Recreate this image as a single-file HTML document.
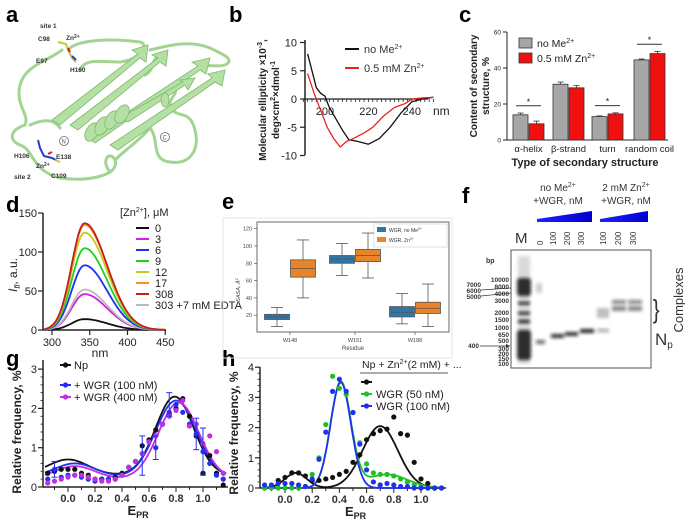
<!DOCTYPE html>
<html><head><meta charset="utf-8">
<style>
html,body{margin:0;padding:0;background:#fff;}
svg{display:block;font-family:"Liberation Sans",sans-serif;}
.pl{font-size:22px;font-weight:bold;}
.tk{font-size:10px;fill:#222;}
.lg{font-size:12px;fill:#222;}
</style></head>
<body>
<svg id="fig" width="685" height="521" viewBox="0 0 685 521">
<defs>
<filter id="blur1" x="-30%" y="-80%" width="160%" height="260%"><feGaussianBlur stdDeviation="1.6"/></filter>
<linearGradient id="tri" x1="0" x2="1"><stop offset="0" stop-color="#2020ff"/><stop offset="1" stop-color="#0000d0"/></linearGradient>
</defs>
<!-- panel labels -->
<text class="pl" x="6" y="22">a</text>
<text class="pl" x="229" y="22">b</text>
<text class="pl" x="459" y="22">c</text>
<text class="pl" x="6" y="212">d</text>
<text class="pl" x="222" y="209">e</text>
<text class="pl" x="462" y="203">f</text>
<text class="pl" x="6" y="366">g</text>
<text class="pl" x="222" y="366">h</text>

<!-- panel a: protein ribbon -->
<g id="protein" fill="none" stroke="#a3d492" stroke-width="3" stroke-linecap="round" stroke-linejoin="round">
<path d="M62,50 C50,60 25,65 20,85 C15,105 30,115 25,125 C10,130 8,140 20,145 C35,150 30,170 60,178 C90,182 120,175 115,160 C110,150 100,160 110,172" />
<path d="M70,48 C80,40 110,38 140,42 C150,44 140,60 120,62 C100,62 85,58 80,70" />
<path d="M150,50 C170,45 190,40 210,48 C225,55 235,60 225,65 C215,68 205,62 195,70" />
<path d="M150,128 C160,140 150,160 170,162 C190,165 200,150 195,130 C190,110 180,118 172,110 C165,100 178,95 175,90" />
<path d="M115,160 C125,150 140,140 150,128" />
<path d="M30,125 C45,118 55,120 60,128" />
<path d="M160,55 C150,60 155,70 145,75" />
</g>
<g fill="#b5e0a3" stroke="#7fb870" stroke-width="0.8">
<polygon points="52,120 60,125 140,58 146,62 148,45 132,50 138,54" />
<polygon points="70,125 78,130 160,62 166,66 168,50 152,55 158,58" />
<polygon points="88,138 95,143 200,70 206,74 210,58 192,62 198,66" />
<polygon points="110,145 118,150 215,82 222,86 225,70 208,74 212,78" />
<polygon points="120,118 128,122 185,85 188,90 195,78 180,80 183,82" />
</g>
<g fill="#b5e0a3" stroke="#7fb870" stroke-width="0.8">
<ellipse cx="92" cy="132" rx="6" ry="10" transform="rotate(30 92 132)"/>
<ellipse cx="102" cy="126" rx="6" ry="10" transform="rotate(30 102 126)"/>
<ellipse cx="112" cy="120" rx="6" ry="10" transform="rotate(30 112 120)"/>
<ellipse cx="122" cy="114" rx="6" ry="10" transform="rotate(30 122 114)"/>
<ellipse cx="165" cy="100" rx="4" ry="7"/>
</g>
<g stroke-width="2" fill="none">
<path d="M58,42 L66,44 L68,50 L72,58 L76,62" stroke="#c8c840"/>
<path d="M68,48 L70,52" stroke="#d02020"/>
<path d="M72,56 L76,60" stroke="#2040d0"/>
<path d="M38,140 L40,148 L44,156 L52,158 L56,160" stroke="#2040d0"/>
<path d="M48,154 L52,152" stroke="#d02020"/>
<path d="M55,160 L60,162" stroke="#c8c840"/>
</g>
<g font-size="6.5" font-weight="bold" fill="#333">
<text x="40" y="28">site 1</text>
<text x="38" y="41">C98</text>
<text x="66" y="40">Zn<tspan font-size="5" dy="-2">2+</tspan></text>
<text x="36" y="63">E97</text>
<text x="70" y="72">H160</text>
<text x="14" y="158">H106</text>
<text x="56" y="159">E138</text>
<text x="36" y="168">Zn<tspan font-size="5" dy="-2">2+</tspan></text>
<text x="14" y="179">site 2</text>
<text x="51" y="178">C109</text>
</g>
<g fill="none" stroke="#666" stroke-width="0.8">
<circle cx="64" cy="141" r="4.5"/><circle cx="165" cy="137" r="4.5"/>
<text x="61.5" y="143.5" font-size="6" fill="#555" stroke="none">N</text>
<text x="162.5" y="139.5" font-size="6" fill="#555" stroke="none">C</text>
</g>

<!-- panel f gel -->
<g>
<text x="558" y="191" font-size="10" text-anchor="middle" fill="#333">no Me<tspan font-size="7" dy="-4">2+</tspan></text>
<text x="558" y="204" font-size="10" text-anchor="middle" fill="#333">+WGR, nM</text>
<text x="626" y="191" font-size="10" text-anchor="middle" fill="#333">2 mM Zn<tspan font-size="7" dy="-4">2+</tspan></text>
<text x="626" y="204" font-size="10" text-anchor="middle" fill="#333">+WGR, nM</text>
<polygon points="537,219 592,211 592,222 537,222" fill="url(#tri)"/>
<polygon points="600,219 648,211 648,222 600,222" fill="url(#tri)"/>
<text x="515" y="243" font-size="15" fill="#333">M</text>
<g font-size="8" fill="#333">
<text transform="translate(543,245) rotate(-90)">0</text>
<text transform="translate(556,245) rotate(-90)">100</text>
<text transform="translate(570,245) rotate(-90)">200</text>
<text transform="translate(584,245) rotate(-90)">300</text>
<text transform="translate(606,245) rotate(-90)">100</text>
<text transform="translate(621,245) rotate(-90)">200</text>
<text transform="translate(636,245) rotate(-90)">300</text>
</g>
<rect x="511" y="250" width="140" height="118" fill="#fff" stroke="#555" stroke-width="1"/>
<g filter="url(#blur1)" fill="#111">
<rect x="518" y="256" width="12" height="108" opacity="0.15"/>
<rect x="517" y="278" width="14" height="18" rx="3" opacity="0.85"/>
<rect x="518" y="302" width="12" height="2.5"/>
<rect x="518" y="312" width="12" height="2.5"/>
<rect x="518" y="320" width="12" height="3"/>
<rect x="517" y="330" width="14" height="30" rx="3" opacity="0.85"/>
<rect x="536" y="340" width="9" height="4" opacity="0.6"/>
<rect x="536" y="283" width="6" height="10" opacity="0.2"/>
<rect x="551" y="334" width="13" height="4" opacity="0.85"/>
<rect x="565" y="332" width="13" height="4" opacity="0.85"/>
<rect x="580" y="329" width="14" height="4" opacity="0.9"/>
<rect x="597" y="329" width="12" height="3" opacity="0.4"/>
<rect x="597" y="308" width="12" height="10" opacity="0.25"/>
<rect x="612" y="300" width="14" height="4" opacity="0.5"/>
<rect x="612" y="306" width="14" height="5" opacity="0.5"/>
<rect x="628" y="300" width="14" height="4" opacity="0.5"/>
<rect x="628" y="306" width="14" height="5" opacity="0.5"/>
</g>
<text x="486" y="263" font-size="7" font-weight="bold" fill="#333">bp</text>
<g font-size="6.5" font-weight="bold" fill="#333" text-anchor="end">
<text x="509" y="282">10000</text><text x="509" y="289">8000</text><text x="509" y="296">4000</text>
<text x="509" y="303">3000</text><text x="509" y="315">2000</text><text x="509" y="322">1500</text>
<text x="509" y="330">1000</text><text x="509" y="337">650</text><text x="509" y="343">500</text>
<text x="509" y="351">300</text><text x="509" y="356">200</text><text x="509" y="361">150</text><text x="509" y="366">100</text>
<text x="481" y="287">7000</text><text x="481" y="293">6000</text><text x="481" y="299">5000</text>
<text x="479" y="348">400</text>
</g>
<path d="M481,290 L511,288 M481,296 L511,293" stroke="#333" stroke-width="0.7"/>
<path d="M480,346 L510,346" stroke="#333" stroke-width="0.7"/>
<path d="M506,344 L510,346 L506,348" fill="#333"/>
<text x="653" y="318" font-size="26" fill="#333" transform="scale(0.8,1) translate(163,0)">}</text>
<text transform="translate(683,300) rotate(-90)" font-size="13" text-anchor="middle" fill="#333">Complexes</text>
<text x="655" y="345" font-size="17" fill="#333">N<tspan font-size="10" dy="3">p</tspan></text>
</g>

<g id="charts"></g>
</svg>
<script>
// ---------- data ----------
const bWlNo=[192,194,196,198,200,202,205,208,211,215,220,225,230,235,240,245,250];
const bValNo=[8,5,2,1,0.5,-1.5,-3.5,-5.5,-7.2,-7.5,-8,-7,-5,-2.5,-0.5,0,0.3];
const bWlZn=[192,195,198,201,204,207,210,213,218,222,227,232,237,240,245,250];
const bValZn=[4.5,1,-2,-5,-7,-8.5,-7.5,-7,-6,-5,-3,-1.5,-0.8,0,0.2,0.3];
const bYTicks=[10,5,0,-5,-10];
const bXTicks=[200,220,240];

const cCats=['α-helix','β-strand','turn','random coil'];
const cNoMe=[14,31,13,44.5];
const cZn=[9,29,14.5,48];
const cErrNo=[1,1.2,0.4,0.5];
const cErrZn=[1.5,1.2,0.6,1.2];
const cYTicks=[0,20,40,60];

const dLabels=['0','3','6','9','12','17','308','303 +7 mM EDTA'];
const dPeaks=[14,46,83,105,125,135,137,52];
const dColors=['#111','#d020e0','#2030f0','#20d020','#c8c820','#ff9020','#c02020','#bbbbbb'];
const dYTicks=[0,50,100,150];
const dXTicks=[300,350,400,450];

const eRes=['W148','W151','W188'];
const eNoMe=[[7,15,18,21,29],[66,80,85,89,103],[10,18,23,30,45]];
const eZn=[[40,64,74,84,107],[63,82,89,96,115],[7,22,28,35,56]];
const eYTicks=[20,40,60,80,100,120];

const gX=[-0.15,-0.1,-0.05,0,0.05,0.1,0.15,0.2,0.25,0.3,0.35,0.4,0.45,0.5,0.55,0.6,0.65,0.7,0.75,0.8,0.85,0.9,0.95,1.0,1.05,1.1,1.15];
const gNp=[0.35,0.4,0.45,0.45,0.45,0.35,0.3,0.2,0.2,0.2,0.25,0.35,0.5,0.65,1.05,1.2,1.45,1.6,1.85,2.0,2.25,1.8,1.3,0.35,0.8,0.35,0.05];
const gW100=[0.2,0.45,0.25,0.3,0.3,0.25,0.2,0.15,0.2,0.2,0.2,0.3,0.5,0.65,0.85,1.15,1.0,1.6,1.9,2.1,1.9,1.6,1.35,0.9,0.6,0.3,0.2];
const gW400=[0.1,0.15,0.2,0.25,0.3,0.3,0.25,0.2,0.15,0.15,0.2,0.3,0.5,0.65,0.85,1.15,1.3,1.6,1.8,1.95,2.2,1.55,1.6,1.1,1.3,0.9,0.35];
const gFitNp=[0.3,0.4,0,0.15,2.0,0.79,0.14];
const gFitW100=[0.25,0.35,0.05,0.15,1.95,0.8,0.15];
const gFitW400=[0.2,0.33,0.05,0.15,1.95,0.82,0.15];

const hX=gX;
const hNp=[0,0.05,0.25,0.35,0.5,0.5,0.4,0.25,0.25,0.3,0.35,0.45,0.55,0.85,1.1,1.6,1.8,1.9,1.95,2.35,1.8,1.75,0.85,0.3,0.15,0,0];
const hW50=[0,0,0,0,0,0,0.05,0.45,1.0,2.1,3.7,3.3,3.1,2.5,1.5,0.8,0.5,0.45,0.45,0.4,0.3,0.2,0.1,0.05,0,0,0];
const hW100=[0.1,0.1,0.15,0.15,0.15,0.1,0.05,0.3,0.95,1.85,3.2,3.6,3.2,2.5,1.45,0.6,0.2,0.1,0.15,0.1,0.05,0.05,0,0,0,0,0];
const hFitNp=[0,0.5,0.08,0.08,2.05,0.7,0.13];
const hFitW50=[0,0.45,0.75,0.15,3.5,0.41,0.075];
const hFitW100=[0,0,0.75,0.15,3.5,0.41,0.075];
const gYTicks=[0,1,2,3];
const hYTicks=[0,1,2,3,4];
const epXTicks=[0.0,0.2,0.4,0.6,0.8,1.0];

// ---------- helpers ----------
const NS='http://www.w3.org/2000/svg';
const root=document.getElementById('charts');
function add(p,tag,attrs,name,text){
  const el=document.createElementNS(NS,tag);
  for(const k in attrs) el.setAttribute(k,attrs[k]);
  
  
  if(text!==undefined) el.innerHTML=text;
  p.appendChild(el);
  return el;
}
function line(p,x1,y1,x2,y2,st,w,name){return add(p,'line',{x1,y1,x2,y2,stroke:st,'stroke-width':w},name);}
function poly(p,xs,ys,fx,fy,st,w,name){
  const pts=xs.map((x,i)=>fx(x).toFixed(1)+','+fy(ys[i]).toFixed(1)).join(' ');
  return add(p,'polyline',{points:pts,fill:'none',stroke:st,'stroke-width':w,'stroke-linejoin':'round'},name);
}
function gauss2(p,x){return p[1]*Math.exp(-((x-p[2])**2)/(2*p[3]*p[3]))+p[4]*Math.exp(-((x-p[5])**2)/(2*p[6]*p[6]))+p[0];}

// ---------- panel b ----------
const gb=add(root,'g',{},'cd-spectrum-chart');
const xB=l=>325+(l-200)*2.17, yB=v=>99-5.65*v;
line(gb,305,40,305,155,'#222',1.5,'b-y-axis');
bYTicks.forEach(t=>{line(gb,300,yB(t),305,yB(t),'#222',1.2,'b-y-tick');
 add(gb,'text',{x:297,y:yB(t)+4,'text-anchor':'end','font-size':11,fill:'#222'},'b-y-tick-label',String(t));});
line(gb,305,yB(0),428,yB(0),'#222',1.2,'b-x-axis');
for(let l=190;l<=250;l+=2){line(gb,xB(l),yB(0),xB(l),yB(0)+3,'#222',0.8,'b-x-minor-tick');}
bXTicks.forEach(t=>add(gb,'text',{x:xB(t),y:115,'text-anchor':'middle','font-size':11,fill:'#222'},'b-x-tick-label',String(t)));
add(gb,'text',{x:433,y:115,'font-size':12,fill:'#222'},'b-x-unit','nm');
poly(gb,bWlNo,bValNo,xB,yB,'#111',1.3,'b-line-no-me');
poly(gb,bWlZn,bValZn,xB,yB,'#f02020',1.3,'b-line-zn');
line(gb,345,49,359,49,'#111',2,'b-legend-swatch-no-me');
add(gb,'text',{x:364,y:53,'font-size':11,fill:'#333'},'b-legend-no-me','no Me<tspan font-size="7" dy="-4">2+</tspan>');
line(gb,345,68,359,68,'#f02020',2,'b-legend-swatch-zn');
add(gb,'text',{x:364,y:72,'font-size':11,fill:'#333'},'b-legend-zn','0.5 mM Zn<tspan font-size="7" dy="-4">2+</tspan>');
add(gb,'text',{transform:'translate(266,100) rotate(-90)','text-anchor':'middle','font-size':10,'font-weight':'bold',fill:'#222'},'b-y-axis-title','Molecular ellipticity ×10<tspan font-size="7" dy="-4">-3</tspan><tspan dy="4">,</tspan>');
add(gb,'text',{transform:'translate(279,100) rotate(-90)','text-anchor':'middle','font-size':10,'font-weight':'bold',fill:'#222'},'b-y-axis-title-2','deg×cm<tspan font-size="7" dy="-4">2</tspan><tspan dy="4">×dmol</tspan><tspan font-size="7" dy="-4">-1</tspan>');

// ---------- panel c ----------
const gc=add(root,'g',{},'secondary-structure-chart');
const yC=v=>140-1.8*v;
const cX0=[513,553,592,634];
line(gc,507,32,507,140,'#222',1,'c-y-axis');
line(gc,507,140,668,140,'#222',1,'c-x-axis');
cYTicks.forEach(t=>{line(gc,503,yC(t),507,yC(t),'#222',1,'c-y-tick');
 add(gc,'text',{x:501,y:yC(t)+2.5,'text-anchor':'end','font-size':6.5,fill:'#222'},'c-y-tick-label',String(t));});
cCats.forEach((c,i)=>{
 const x=cX0[i];
 add(gc,'rect',{x:x,y:yC(cNoMe[i]),width:15,height:140-yC(cNoMe[i]),fill:'#a6a6a6',stroke:'#333','stroke-width':0.8},'c-bar-no-me');
 add(gc,'rect',{x:x+16,y:yC(cZn[i]),width:15,height:140-yC(cZn[i]),fill:'#f01010',stroke:'#333','stroke-width':0.8},'c-bar-zn');
 line(gc,x+7.5,yC(cNoMe[i]+cErrNo[i]),x+7.5,yC(cNoMe[i]),'#333',0.8,'c-error-bar');
 line(gc,x+4.5,yC(cNoMe[i]+cErrNo[i]),x+10.5,yC(cNoMe[i]+cErrNo[i]),'#333',0.8,'c-error-cap');
 line(gc,x+23.5,yC(cZn[i]+cErrZn[i]),x+23.5,yC(cZn[i]),'#333',0.8,'c-error-bar');
 line(gc,x+20.5,yC(cZn[i]+cErrZn[i]),x+26.5,yC(cZn[i]+cErrZn[i]),'#333',0.8,'c-error-cap');
 add(gc,'text',{x:x+15.5,y:152,'text-anchor':'middle','font-size':9.5,fill:'#222'},'c-category-label',c);
});
[0,2,3].forEach(i=>{const top=Math.max(cNoMe[i]+cErrNo[i],cZn[i]+cErrZn[i])+4;
 line(gc,cX0[i]+3,yC(top),cX0[i]+28,yC(top),'#333',1,'c-significance-bar');
 add(gc,'text',{x:cX0[i]+15.5,y:yC(top)-1,'text-anchor':'middle','font-size':9,fill:'#222'},'c-significance-star','*');});
add(gc,'text',{x:585,y:166,'text-anchor':'middle','font-size':11,'font-weight':'bold',fill:'#222'},'c-x-axis-title','Type of secondary structure');
add(gc,'text',{transform:'translate(477,86) rotate(-90)','text-anchor':'middle','font-size':10,'font-weight':'bold',fill:'#222'},'c-y-axis-title','Content of secondary');
add(gc,'text',{transform:'translate(489,86) rotate(-90)','text-anchor':'middle','font-size':10,'font-weight':'bold',fill:'#222'},'c-y-axis-title-2','structure, %');
add(gc,'rect',{x:519,y:38,width:13,height:10,fill:'#a6a6a6',stroke:'#333','stroke-width':0.8},'c-legend-swatch-no-me');
add(gc,'text',{x:537,y:47,'font-size':10.5,fill:'#222'},'c-legend-no-me','no Me<tspan font-size="7" dy="-4">2+</tspan>');
add(gc,'rect',{x:519,y:53,width:13,height:10,fill:'#f01010',stroke:'#333','stroke-width':0.8},'c-legend-swatch-zn');
add(gc,'text',{x:537,y:62,'font-size':10.5,fill:'#222'},'c-legend-zn','0.5 mM Zn<tspan font-size="7" dy="-4">2+</tspan>');

// ---------- panel d ----------
const gd=add(root,'g',{},'fluorescence-chart');
const xD=l=>52+(l-300)*0.755, yD=v=>330-0.78*v;
line(gd,43,213,43,330,'#222',1.5,'d-y-axis');
line(gd,43,330,166,330,'#222',1.5,'d-x-axis');
dYTicks.forEach(t=>{line(gd,38,yD(t),43,yD(t),'#222',1.2,'d-y-tick');
 add(gd,'text',{x:37,y:yD(t)+4,'text-anchor':'end','font-size':11,fill:'#222'},'d-y-tick-label',String(t));});
dXTicks.forEach(t=>{line(gd,xD(t),330,xD(t),335,'#222',1.2,'d-x-tick');
 add(gd,'text',{x:xD(t),y:346,'text-anchor':'middle','font-size':11,fill:'#222'},'d-x-tick-label',String(t));});
add(gd,'text',{x:100,y:357,'text-anchor':'middle','font-size':12,fill:'#222'},'d-x-axis-title','nm');
add(gd,'text',{transform:'translate(17,275) rotate(-90)','text-anchor':'middle','font-size':12,fill:'#222'},'d-y-axis-title','<tspan font-style="italic">I</tspan><tspan font-size="8" dy="3" font-style="italic">fl</tspan><tspan dy="-3">, a.u.</tspan>');
const dWl=[];for(let l=290;l<=450;l+=3)dWl.push(l);
const dOrder=[0,1,7,2,3,4,5,6];
dOrder.forEach(i=>{
 const ys=dWl.map(l=>{const s=l<343?17:30;return dPeaks[i]*Math.exp(-((l-343)**2)/(2*s*s));});
 poly(gd,dWl,ys,xD,yD,dColors[i],1.8,'d-spectrum-'+dLabels[i].split(' ')[0]);
});
add(gd,'text',{x:120,y:216,'font-size':11,fill:'#222'},'d-legend-title','[Zn<tspan font-size="7" dy="-4">2+</tspan><tspan dy="4">], μM</tspan>');
dLabels.forEach((lab,i)=>{const y=228+i*11;
 line(gd,136,y,149,y,dColors[i],2,'d-legend-swatch');
 add(gd,'text',{x:155,y:y+4,'font-size':11,fill:'#222'},'d-legend-entry',lab);});

// ---------- panel e ----------
const ge=add(root,'g',{},'sasa-boxplot');
const yE=v=>332.5-0.865*v;
const xE=[290,355,415];
add(ge,'rect',{x:223,y:218,width:229,height:140,fill:'none',stroke:'#e4e4e4','stroke-width':1},'e-outer-frame');
add(ge,'rect',{x:257,y:222,width:192,height:110,fill:'none',stroke:'#444','stroke-width':0.8},'e-axes-frame');
eYTicks.forEach(t=>{line(ge,254,yE(t),257,yE(t),'#444',0.6,'e-y-tick');
 add(ge,'text',{x:252,y:yE(t)+2,'text-anchor':'end','font-size':5.5,fill:'#444'},'e-y-tick-label',String(t));});
add(ge,'text',{transform:'translate(240,290) rotate(-90)','text-anchor':'middle','font-size':5.5,fill:'#444','font-style':'italic'},'e-y-axis-title','SASA, Å<tspan font-size="4" dy="-2">2</tspan>');
add(ge,'text',{x:353,y:350,'text-anchor':'middle','font-size':6,fill:'#444'},'e-x-axis-title','Residue');
function box(x,q,fill,name){
 line(ge,x,yE(q[0]),x,yE(q[1]),'#555',0.8,name+'-whisker');
 line(ge,x,yE(q[3]),x,yE(q[4]),'#555',0.8,name+'-whisker');
 line(ge,x-6,yE(q[0]),x+6,yE(q[0]),'#555',0.8,name+'-cap');
 line(ge,x-6,yE(q[4]),x+6,yE(q[4]),'#555',0.8,name+'-cap');
 add(ge,'rect',{x:x-12.5,y:yE(q[3]),width:25,height:yE(q[1])-yE(q[3]),fill:fill,stroke:'#555','stroke-width':0.8},name);
 line(ge,x-12.5,yE(q[2]),x+12.5,yE(q[2]),'#555',0.8,name+'-median');
}
eRes.forEach((r,i)=>{
 box(xE[i]-13,eNoMe[i],'#2e76a8','e-box-no-me-'+r);
 box(xE[i]+13,eZn[i],'#e8852a','e-box-zn-'+r);
 line(ge,xE[i],332,xE[i],335,'#444',0.6,'e-x-tick');
 add(ge,'text',{x:xE[i],y:342,'text-anchor':'middle','font-size':5.5,fill:'#444'},'e-x-tick-label',r);
});
add(ge,'rect',{x:374,y:224,width:73,height:23,fill:'#fff',stroke:'#ccc','stroke-width':0.6},'e-legend-frame');
add(ge,'rect',{x:377,y:227,width:9,height:5,fill:'#2e76a8'},'e-legend-swatch-no-me');
add(ge,'text',{x:389,y:232,'font-size':5,fill:'#333'},'e-legend-no-me','WGR, no Me<tspan font-size="3.5" dy="-2">2+</tspan>');
add(ge,'rect',{x:377,y:237,width:9,height:5,fill:'#e8852a'},'e-legend-swatch-zn');
add(ge,'text',{x:389,y:242,'font-size':5,fill:'#333'},'e-legend-zn','WGR, Zn<tspan font-size="3.5" dy="-2">2+</tspan>');

// ---------- panels g & h ----------
function epPanel(name,x0,y0,kx,ky,yTicks,series,fits,colors,xAxisLeft,xAxisRight,yTop){
 const g=add(root,'g',{},name);
 const fx=v=>x0+kx*v, fy=v=>y0-ky*v;
 line(g,xAxisLeft,yTop,xAxisLeft,y0,'#222',1.5,name+'-y-axis');
 line(g,xAxisLeft,y0,xAxisRight,y0,'#222',1.5,name+'-x-axis');
 yTicks.forEach(t=>{line(g,xAxisLeft-5,fy(t),xAxisLeft,fy(t),'#222',1.2,name+'-y-tick');
  add(g,'text',{x:xAxisLeft-6,y:fy(t)+4,'text-anchor':'end','font-size':11,fill:'#222'},name+'-y-tick-label',String(t));
  if(t<yTicks[yTicks.length-1]) for(let m=1;m<5;m++){const yy=fy(t+m/5);line(g,xAxisLeft-2.5,yy,xAxisLeft,yy,'#222',0.8,name+'-y-minor-tick');}
 });
 for(let v=-0.1;v<=1.15;v+=0.1){line(g,fx(v),y0,fx(v),y0+(Math.abs(Math.round(v*10)%2)===0?5:3),'#222',1,name+'-x-tick');}
 epXTicks.forEach(t=>add(g,'text',{x:fx(t),y:y0+15,'text-anchor':'middle','font-size':11,'font-weight':'bold',fill:'#333'},name+'-x-tick-label',t.toFixed(1)));
 add(g,'text',{x:fx(0.5)-8,y:y0+28,'font-size':13,'font-weight':'bold',fill:'#222'},name+'-x-axis-title','E<tspan font-size="9" dy="3">PR</tspan>');
 add(g,'text',{transform:'translate('+(xAxisLeft-22)+','+(y0-55)+') rotate(-90)','text-anchor':'middle','font-size':12,'font-weight':'bold',fill:'#222'},name+'-y-axis-title','Relative frequency, %');
 const fitX=[];for(let v=-0.17;v<=1.171;v+=0.01)fitX.push(v);
 fits.forEach((p,i)=>poly(g,fitX,fitX.map(v=>gauss2(p,v)),fx,fy,colors[i],1.8,name+'-fit-'+i));
 series.forEach((s,i)=>s.forEach((v,j)=>add(g,'circle',{cx:fx(gX[j]),cy:fy(v),r:2.6,fill:colors[i]},name+'-point-'+i)));
 return {g,fx,fy};
}
const gp=epPanel('fret-chart-g',68,487,135,39.3,gYTicks,[gNp,gW100,gW400],[gFitNp,gFitW100,gFitW400],['#111','#2030f0','#c030e0'],43,228,360);
[[0.55,0.8,0.5],[0.75,2.1,0.3],[0.95,1.35,0.4],[1.0,0.9,0.6],[0.65,1.0,0.3],[-0.1,0.45,0.2]].forEach(e=>{
 line(gp.g,gp.fx(e[0]),gp.fy(e[1]-e[2]),gp.fx(e[0]),gp.fy(e[1]+e[2]),'#2030f0',1,'g-error-bar');
 line(gp.g,gp.fx(e[0])-3,gp.fy(e[1]+e[2]),gp.fx(e[0])+3,gp.fy(e[1]+e[2]),'#2030f0',1,'g-error-cap');
 line(gp.g,gp.fx(e[0])-3,gp.fy(e[1]-e[2]),gp.fx(e[0])+3,gp.fy(e[1]-e[2]),'#2030f0',1,'g-error-cap');});
[['Np','#111',365],['+ WGR (100 nM)','#2030f0',385],['+ WGR (400 nM)','#c030e0',397]].forEach(l=>{
 line(gp.g,60,l[2],71,l[2],l[1],2,'g-legend-swatch');
 add(gp.g,'circle',{cx:65.5,cy:l[2],r:2.6,fill:l[1]},'g-legend-marker');
 add(gp.g,'text',{x:74,y:l[2]+4,'font-size':11,fill:'#222'},'g-legend-entry',l[0]);});

const hp=epPanel('fret-chart-h',285,488,136,30.2,hYTicks,[hNp,hW50,hW100],[hFitNp,hFitW50,hFitW100],['#111','#20c020','#2030f0'],260,446,367);
add(hp.g,'text',{x:362,y:368,'font-size':10.5,fill:'#222'},'h-legend-title','Np + Zn<tspan font-size="7" dy="-4">2+</tspan><tspan dy="4">(2 mM) + ...</tspan>');
line(hp.g,360,373,448,373,'#222',0.8,'h-legend-underline');
[['','#111',382],['WGR (50 nM)','#20c020',394],['WGR (100 nM)','#2030f0',406]].forEach(l=>{
 line(hp.g,361,l[2],372,l[2],l[1],2,'h-legend-swatch');
 add(hp.g,'circle',{cx:366.5,cy:l[2],r:2.6,fill:l[1]},'h-legend-marker');
 add(hp.g,'text',{x:376,y:l[2]+4,'font-size':11,fill:'#222'},'h-legend-entry',l[0]);});
</script>
</body></html>
